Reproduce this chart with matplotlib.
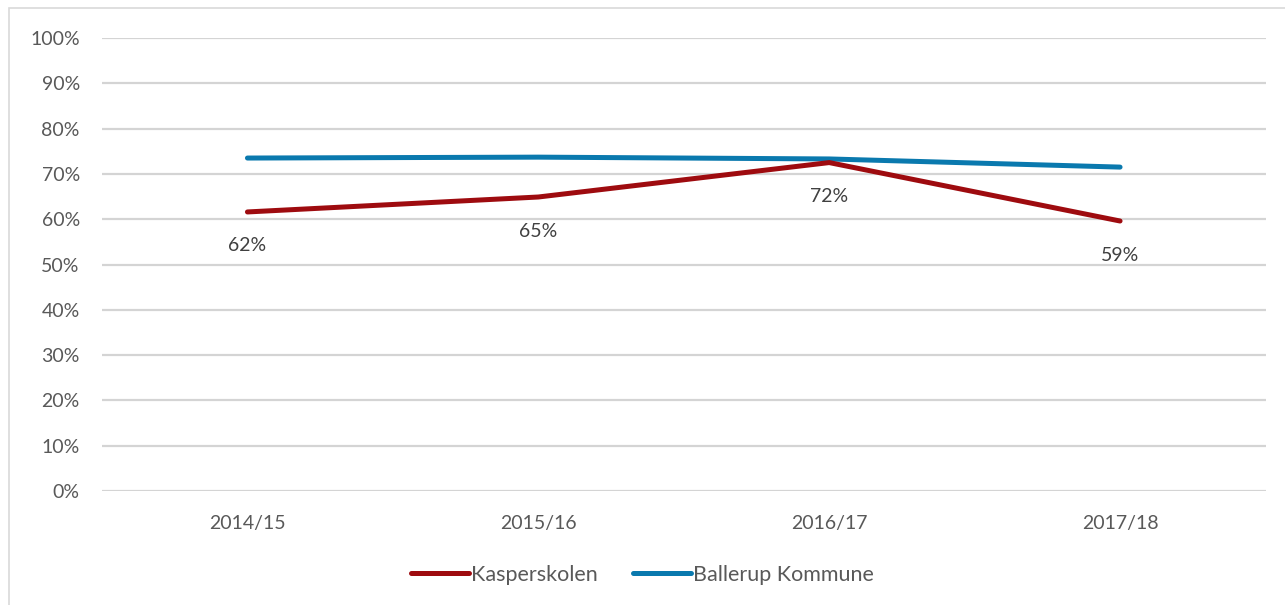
import matplotlib.pyplot as plt
from matplotlib.patches import Rectangle

seasons = ["2014/15", "2015/16", "2016/17", "2017/18"]
kasperskolen = [0.616, 0.649, 0.725, 0.596]
ballerup = [0.735, 0.737, 0.733, 0.715]
kasper_labels = ["62%", "65%", "72%", "59%"]
yticks = [i / 10 for i in range(11)]

plt.rcParams['font.family'] = ['Lato', 'DejaVu Sans']

fig = plt.figure(figsize=(12.85, 6.05), dpi=100)

# light border around the chart area (cut off at right/bottom like the source)
fig.patches.append(Rectangle((9 / 1285, -0.1), 1.2, 1 - 8 / 605 + 0.1,
                             transform=fig.transFigure, fill=False,
                             edgecolor="#d9d9d9", linewidth=1.2))

ax = fig.add_axes([102 / 1285, 1 - 491 / 605, (1265.5 - 102) / 1285, (491 - 38) / 605])

x = [i + 0.5 for i in range(len(seasons))]
ax.plot(x, kasperskolen, color="#9e0b0f", linewidth=3.6, solid_capstyle="round",
        label="Kasperskolen", zorder=3)
ax.plot(x, ballerup, color="#0a79ae", linewidth=3.6, solid_capstyle="round",
        label="Ballerup Kommune", zorder=2)

for xi, yi, lab in zip(x, kasperskolen, kasper_labels):
    ax.annotate(lab, (xi, yi), xytext=(0, -24.5), textcoords="offset points",
                ha="center", va="center", fontsize=14, color="#404040")

ax.set_xlim(0, len(seasons))
ax.set_ylim(0, 1)
ax.set_yticks(yticks)
ax.set_yticklabels([f"{int(round(t * 100))}%" for t in yticks])
ax.set_xticks(x)
ax.set_xticklabels(seasons)
ax.tick_params(length=0, labelsize=14, colors="#595959")
ax.tick_params(axis="y", pad=16)
ax.tick_params(axis="x", pad=17)
ax.grid(axis="y", color="#d4d4d4", linewidth=1.6)
ax.set_axisbelow(True)
for s in ax.spines.values():
    s.set_visible(False)

fig.legend(loc="center", bbox_to_anchor=(0.5, 1 - 575 / 605), ncol=2, frameon=False,
           fontsize=15.5, handlelength=2.7, handletextpad=0.1, columnspacing=1.6,
           labelcolor="#595959")

fig.savefig("out.png", dpi=100)
